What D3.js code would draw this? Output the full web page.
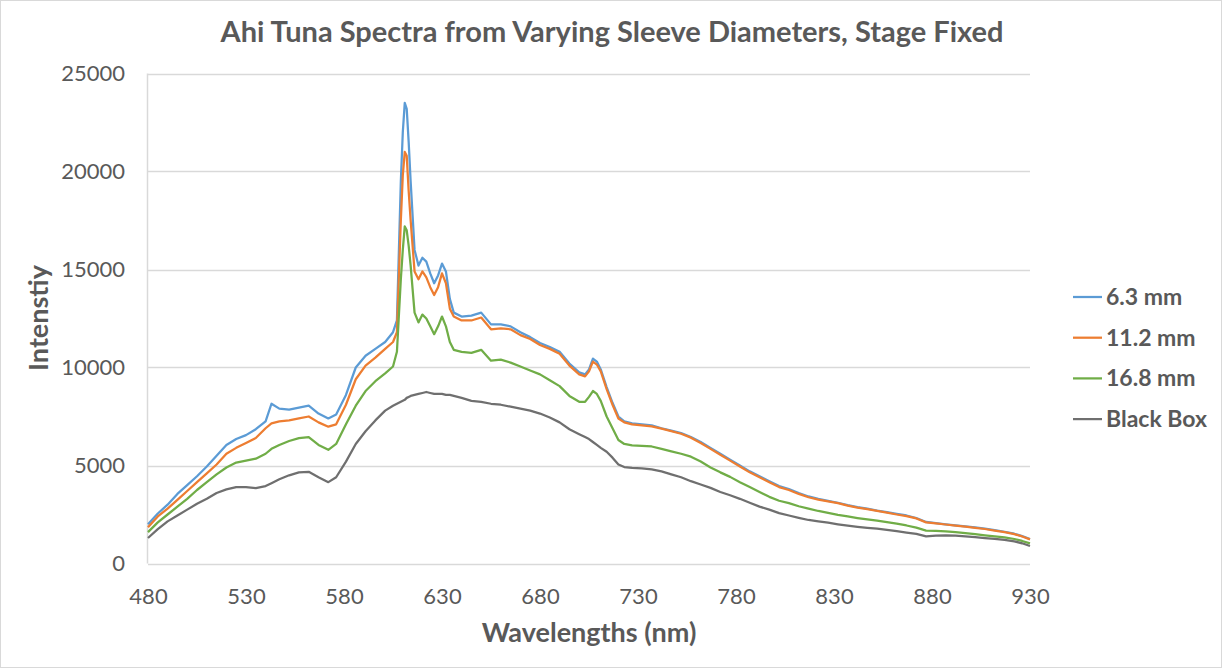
<!DOCTYPE html>
<html>
<head>
<meta charset="utf-8">
<script src="https://cdn.jsdelivr.net/npm/d3@7"></script>
<style>
  body { margin: 0; background: #fff; }
  svg { display: block; font-family: Lato, "Open Sans", sans-serif; }
</style>
</head>
<body>
<svg id="chart" width="1222" height="668"></svg>
<script>
// wavelength grid (nm), shared by every series
const wavelengths = [480,485,490,495,500,505,510,515,520,525,530,535,540,543,547,552,557,562,567,572,576,581,586,591,596,601,605,607,609,610,611,612,613,614,616,618,620,622,624,626,628,630,632,634,636,640,645,650,655,660,665,670,675,680,685,690,695,700,703,705,707,709,711,714,717,720,723,727,732,737,742,747,752,757,762,767,772,777,782,787,792,797,802,807,812,817,822,827,832,837,842,847,852,857,862,867,872,877,882,887,892,897,902,907,912,917,922,926,930];

const sleeve63 = [2000,2550,3000,3550,4000,4450,4950,5500,6050,6350,6550,6850,7250,8150,7900,7850,7950,8050,7650,7400,7600,8600,10000,10600,10950,11300,11800,12400,19500,22000,23500,23200,21500,19500,16000,15200,15600,15400,14800,14300,14700,15300,14900,13500,12800,12600,12650,12800,12200,12200,12100,11800,11550,11250,11050,10800,10200,9750,9650,9900,10450,10300,9900,9000,8200,7500,7250,7150,7100,7050,6900,6780,6650,6450,6200,5900,5600,5300,5000,4700,4450,4200,3950,3800,3600,3420,3300,3200,3100,2980,2880,2800,2700,2620,2530,2450,2320,2120,2060,2000,1950,1900,1840,1780,1700,1620,1520,1400,1250];

const sleeve112 = [1850,2400,2800,3250,3700,4150,4600,5050,5600,5900,6150,6400,6900,7150,7250,7300,7400,7500,7200,6980,7100,8100,9400,10100,10500,10950,11300,11800,17500,19800,21000,20800,19000,17500,14900,14500,14900,14600,14100,13700,14100,14800,14300,13000,12600,12400,12400,12550,11950,12000,11950,11650,11450,11150,10950,10700,10100,9650,9550,9800,10300,10150,9800,8900,8100,7400,7200,7100,7050,7000,6880,6750,6620,6420,6150,5850,5550,5250,4950,4650,4400,4150,3900,3750,3550,3380,3260,3170,3080,2950,2850,2770,2680,2600,2500,2420,2300,2100,2050,1990,1930,1880,1820,1760,1680,1600,1500,1380,1230];

const sleeve168 = [1600,2100,2500,2900,3300,3750,4150,4550,4900,5150,5250,5350,5600,5850,6050,6250,6400,6450,6050,5800,6100,7100,8050,8800,9300,9700,10050,10800,14500,16000,17200,17000,16200,15200,12800,12300,12700,12500,12100,11700,12100,12600,12100,11300,10900,10800,10750,10900,10350,10400,10250,10050,9850,9650,9350,9050,8550,8250,8250,8500,8800,8650,8300,7500,6900,6300,6100,6030,6000,5970,5850,5720,5600,5450,5200,4900,4650,4420,4150,3900,3650,3400,3200,3080,2920,2800,2680,2580,2480,2400,2320,2250,2190,2110,2030,1940,1830,1680,1660,1640,1600,1550,1500,1440,1390,1330,1250,1150,1030];

const blackBox = [1300,1750,2150,2450,2750,3050,3300,3600,3780,3900,3900,3850,3950,4100,4300,4500,4650,4680,4400,4150,4400,5200,6100,6750,7300,7800,8050,8150,8250,8300,8350,8450,8500,8550,8600,8650,8700,8750,8700,8650,8650,8650,8600,8600,8550,8450,8300,8250,8150,8100,8000,7900,7800,7650,7450,7200,6850,6600,6450,6350,6200,6050,5900,5700,5400,5050,4920,4880,4850,4800,4700,4550,4400,4200,4030,3860,3650,3480,3300,3100,2900,2750,2570,2450,2330,2220,2150,2080,2000,1930,1870,1820,1780,1720,1650,1580,1510,1380,1420,1440,1420,1380,1340,1300,1260,1200,1130,1030,890];

const seriesNames = ["6.3 mm", "11.2 mm", "16.8 mm", "Black Box"];
const seriesValues = [sleeve63, sleeve112, sleeve168, blackBox];
const seriesColors = ["#5b9bd5", "#ed7d31", "#70ad47", "#6f6f6f"];

const xTicks = [480,530,580,630,680,730,780,830,880,930];
const yTicks = [0,5000,10000,15000,20000,25000];

const svg = d3.select("#chart");
const W = +svg.attr("width"), H = +svg.attr("height");
const plot = { left: 148, right: 1030, top: 73.5, bottom: 563.5 };
const textColor = "#595959";
const gridColor = "#d9d9d9";

// outer frame
svg.append("rect")
  .attr("x", 0.5).attr("y", 0.5)
  .attr("width", W - 1).attr("height", H - 1)
  .attr("fill", "#fff").attr("stroke", gridColor);

const x = d3.scaleLinear().domain([480, 930]).range([plot.left, plot.right]);
const y = d3.scaleLinear().domain([0, 25000]).range([plot.bottom, plot.top]);

// horizontal gridlines
svg.append("g")
  .selectAll("line")
  .data(yTicks)
  .join("line")
  .attr("x1", plot.left).attr("x2", plot.right)
  .attr("y1", d => Math.round(y(d)) + 0.5)
  .attr("y2", d => Math.round(y(d)) + 0.5)
  .attr("stroke", gridColor).attr("stroke-width", 1.5);

// left axis line
svg.append("line")
  .attr("x1", plot.left - 0.5).attr("x2", plot.left - 0.5)
  .attr("y1", y(25000)).attr("y2", y(0))
  .attr("stroke", gridColor).attr("stroke-width", 1.5);

// y tick labels
const yAxis = svg.append("g")
  .attr("transform", `translate(${plot.left - 23},0)`)
  .call(d3.axisLeft(y).tickValues(yTicks).tickSize(0).tickPadding(0).tickFormat(d3.format("d")));
yAxis.select(".domain").remove();
yAxis.selectAll("text")
  .attr("fill", textColor)
  .style("font-size", "22px")
  .style("font-family", "Lato, sans-serif");

// x tick labels
const xAxis = svg.append("g")
  .attr("transform", `translate(0,${plot.bottom + 25})`)
  .call(d3.axisBottom(x).tickValues(xTicks).tickSize(0).tickPadding(0).tickFormat(d3.format("d")));
xAxis.select(".domain").remove();
xAxis.selectAll("text")
  .attr("fill", textColor)
  .style("font-size", "22px")
  .style("font-family", "Lato, sans-serif");

// series lines
const line = d3.line()
  .x((d, i) => x(wavelengths[i]))
  .y(d => y(d));

svg.append("g")
  .selectAll("path")
  .data(seriesValues)
  .join("path")
  .attr("d", d => line(d))
  .attr("fill", "none")
  .attr("stroke", (d, i) => seriesColors[i])
  .attr("stroke-width", 2.25)
  .attr("stroke-linejoin", "round");

// titles
svg.append("text")
  .attr("x", 612).attr("y", 42)
  .attr("text-anchor", "middle")
  .attr("fill", textColor)
  .style("font-size", "29px").style("font-weight", "bold")
  .text("Ahi Tuna Spectra from Varying Sleeve Diameters, Stage Fixed");

svg.append("text")
  .attr("x", 589).attr("y", 642)
  .attr("text-anchor", "middle")
  .attr("fill", textColor)
  .style("font-size", "27px").style("font-weight", "bold")
  .text("Wavelengths (nm)");

svg.append("text")
  .attr("transform", `translate(48,318) rotate(-90)`)
  .attr("text-anchor", "middle")
  .attr("fill", textColor)
  .style("font-size", "27px").style("font-weight", "bold")
  .text("Intenstiy");

// legend
const legend = svg.append("g")
  .attr("transform", "translate(1073,297)")
  .selectAll("g")
  .data(seriesNames)
  .join("g")
  .attr("transform", (d, i) => `translate(0,${i * 40.7})`);

legend.append("line")
  .attr("x1", 0).attr("x2", 29)
  .attr("stroke", (d, i) => seriesColors[i])
  .attr("stroke-width", 2.25);

legend.append("text")
  .attr("x", 33).attr("y", 0)
  .attr("dy", "0.35em")
  .attr("fill", textColor)
  .style("font-size", "23px").style("font-weight", "bold")
  .text(d => d);
</script>
</body>
</html>
